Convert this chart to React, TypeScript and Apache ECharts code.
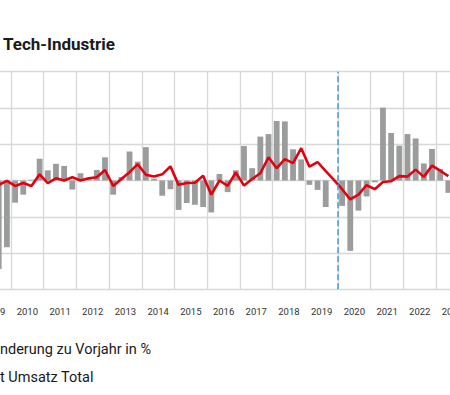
import React, { useEffect, useRef } from "react";
import * as echarts from "echarts";

// Years shown on the x axis (each year = 4 quarters)
const years = ["2009", "2010", "2011", "2012", "2013", "2014", "2015", "2016", "2017", "2018", "2019", "2020", "2021", "2022", "2023"];

// Quarterly change vs. previous year in % (bars), 2009 Q1 .. 2023 Q4
const changeVsPrevYear: (number | null)[] = [
  null, null, -24.4, -18.4,
  -6.1, -3.9, 0.2, 6.0,
  2.8, 4.6, 4.0, -2.5,
  2.0, 0.5, 2.9, 6.4,
  -3.9, 1.0, 8.0, 5.2,
  9.2, 0.5, -4.2, -2.4,
  -8.1, -6.2, -6.7, -7.3,
  -8.8, 1.8, -3.2, 2.8,
  9.5, 3.4, 12.1, 12.8,
  16.4, 16.3, 8.6, 5.8,
  -1.2, -2.6, -7.3, 0.0,
  -7.0, -19.4, -8.3, -4.4,
  -0.5, 20.1, 13.1, 9.6,
  12.8, 11.6, 4.7, 8.7,
  3.2, -3.4, null, null,
];

// Umsatz Total (red line), 2009 Q1 .. 2023 Q4
const totalRevenue: (number | null)[] = [
  null, null, -1.2, -0.1,
  -1.5, -0.7, -1.5, 1.7,
  -0.7, 0.6, 0.0, 0.9,
  0.0, 0.6, 0.9, 2.9,
  -1.5, 0.4, 2.3, 4.5,
  1.6, 1.1, 1.7, 3.9,
  -1.2, -0.7, -0.6, 1.3,
  -3.9, 0.0, -1.5, 2.2,
  -1.4, 0.4, 2.0, 6.4,
  3.4, 5.9, 4.8, 8.9,
  3.8, 5.1, 2.6, 0.2,
  -2.4, -5.2, -3.9, -1.3,
  -2.4, -0.4, -0.2, 1.2,
  1.1, 3.0, 1.0, 4.1,
  2.7, 1.2, null, null,
];

const markerYear = 2020;
const titleText = "Tech-Industrie";
// legend texts as visible in the (cropped) reference
const legendBars = "nderung zu Vorjahr in %";
const legendLine = "t Umsatz Total";

// the chart canvas starts left of the visible window (reference is cropped)
const SHIFT = 22;

export default function App() {
  const ref = useRef<HTMLDivElement>(null);

  useEffect(() => {
    if (!ref.current) return;
    const chart = echarts.init(ref.current, null, { renderer: "svg" });
    const firstYear = Number(years[0]);
    const qPos = (i: number) => firstYear + (i + 0.5) / 4;
    const barData = changeVsPrevYear.map((v, i) => [qPos(i), v]);
    const lineData = totalRevenue.map((v, i) => [qPos(i), v]);
    const gridColor = "#d8d8d8";

    chart.setOption({
      animation: false,
      title: {
        text: titleText,
        left: 3 + SHIFT,
        top: 35,
        padding: 0,
        textStyle: { fontFamily: "Roboto", fontWeight: "bold", fontSize: 17, color: "#1a1a1a" },
      },
      grid: { left: 0.3, top: 71.7, width: 490.5, height: 217.6 },
      xAxis: [
        {
          type: "category",
          data: years,
          boundaryGap: true,
          axisLine: { show: false },
          axisTick: { show: false },
          splitLine: { show: true, interval: 0, lineStyle: { color: gridColor, width: 1.3 } },
          axisLabel: { interval: 0, color: "#333", fontSize: 9.5, fontFamily: "Roboto", margin: 17 },
        },
        {
          type: "value",
          min: firstYear,
          max: firstYear + years.length,
          show: false,
        },
      ],
      yAxis: {
        type: "value",
        min: -30,
        max: 30,
        interval: 10,
        axisLabel: { show: false },
        axisLine: { show: false },
        axisTick: { show: false },
        splitLine: { lineStyle: { color: gridColor, width: 1.3 } },
      },
      series: [
        {
          type: "bar",
          name: legendBars,
          xAxisIndex: 1,
          data: barData,
          barWidth: 5.8,
          itemStyle: { color: "#9b9d9d" },
          markLine: {
            silent: true,
            symbol: "none",
            label: { show: false },
            lineStyle: { color: "#4a9bd0", type: "dashed", width: 1.5 },
            data: [{ xAxis: markerYear }],
          },
        },
        {
          type: "line",
          name: legendLine,
          xAxisIndex: 1,
          data: lineData,
          symbol: "none",
          connectNulls: false,
          lineStyle: { color: "#e3000f", width: 2.6 },
        },
      ],
      graphic: [
        {
          type: "text",
          x: SHIFT,
          y: 349,
          style: { text: legendBars, fontSize: 14.5, fontFamily: "Roboto", fill: "#1a1a1a", align: "left", verticalAlign: "middle" },
        },
        {
          type: "text",
          x: SHIFT,
          y: 377,
          style: { text: legendLine, fontSize: 14.5, fontFamily: "Roboto", fill: "#1a1a1a", align: "left", verticalAlign: "middle" },
        },
      ],
    });
    return () => chart.dispose();
  }, []);

  return (
    <div style={{ position: "absolute", left: 0, top: 0, width: 450, height: 395, overflow: "hidden" }}>
      <div ref={ref} style={{ position: "absolute", left: -SHIFT, top: 0, width: 520, height: 395 }} />
    </div>
  );
}
